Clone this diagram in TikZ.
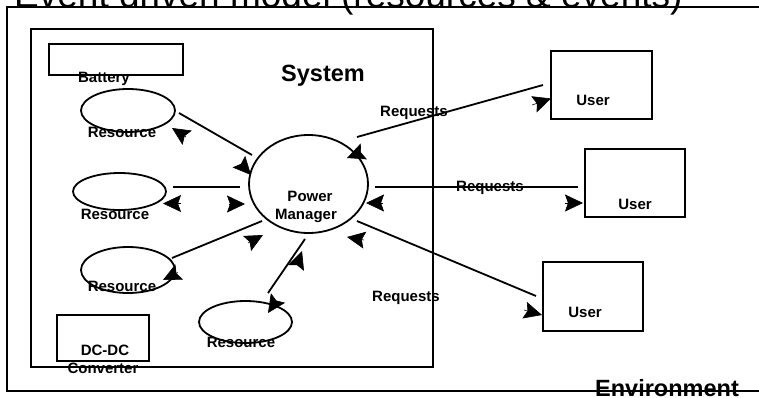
\documentclass[tikz,border=0pt]{standalone}
\usepackage{fontspec}
\setmainfont{Liberation Sans}
\usetikzlibrary{shapes.geometric, arrows.meta}

\begin{document}
\begin{tikzpicture}[
  x=1pt, y=-1pt,
  box/.style={
    draw, rectangle, line width=1.8pt, inner sep=0pt,
  },
  oval/.style={
    draw, ellipse, line width=1.8pt, inner sep=0pt,
  },
  lbl/.style={
    anchor=base, inner sep=0pt, font=\bfseries\fontsize{15}{15}\selectfont
  },
  biglbl/.style={
    anchor=base, inner sep=0pt, font=\bfseries\fontsize{23.5}{24}\selectfont
  },
  link/.style={line width=1.8pt},
  head/.style={
    -{Stealth[length=18pt,width=17pt,inset=3pt]}, line width=0.6pt
  }
  ]
  \useasboundingbox (0,0) rectangle (759,397);
  \node[anchor=base west, inner sep=0pt, font=\fontsize{37}{37}\selectfont]
    (title) at (14,7) {Event driven model (resources \& events)};
  \node[box, minimum width=800pt, minimum height=384pt] (env) at (407,199) {};
  \node[box, minimum width=402pt, minimum height=338pt] (sys) at (232,198) {};
  \node[box, minimum width=134pt, minimum height=31pt] (battery) at (116,59.5) {};
  \node[box, minimum width=92pt, minimum height=46pt] (dcdc) at (103,338) {};
  \node[oval, minimum width=94pt, minimum height=43pt] (res1) at (128,110.5) {};
  \node[oval, minimum width=93pt, minimum height=37pt] (res2) at (119.5,191.5) {};
  \node[oval, minimum width=94pt, minimum height=46pt] (res3) at (128,270) {};
  \node[oval, minimum width=93pt, minimum height=42pt] (res4) at (245.5,322) {};
  \node[oval, minimum width=119pt, minimum height=98pt] (pm) at (308.5,184) {};
  \node[box, minimum width=101pt, minimum height=68pt] (user1) at (601.5,85) {};
  \node[box, minimum width=100pt, minimum height=68pt] (user2) at (635,183) {};
  \node[box, minimum width=100pt, minimum height=69pt] (user3) at (593,296.5) {};

  % line ends
  \coordinate (r1o) at (179,113); \coordinate (pm1) at (252,155);
  \coordinate (r2o) at (173,187); \coordinate (pm2) at (240,187);
  \coordinate (r3o) at (172,258); \coordinate (pm3) at (262,221);
  \coordinate (r4o) at (268,293); \coordinate (pm4) at (305,239);
  \coordinate (pm5) at (357,137); \coordinate (u1o) at (543,85);
  \coordinate (pm6) at (375,187); \coordinate (u2o) at (578,187);
  \coordinate (pm7) at (357,221); \coordinate (u3o) at (536,296);

  \draw[link] (r1o) -- (pm1);
  \draw[link] (r2o) -- (pm2);
  \draw[link] (r3o) -- (pm3);
  \draw[link] (r4o) -- (pm4);
  \draw[link] (pm5) -- (u1o);
  \draw[link] (pm6) -- (u2o);
  \draw[link] (pm7) -- (u3o);

  % arrow heads
  \draw[head] (186,137) -- (172,128);
  \draw[head] (241,164) -- (251,175);
  \draw[head] (181,203.5) -- (163,203.5);
  \draw[head] (229,204) -- (245,204);
  \draw[head] (178,272.5) -- (163,280);
  \draw[head] (248,243) -- (263,235);
  \draw[head] (297,265) -- (302,251);
  \draw[head] (276,301) -- (268,313);
  \draw[head] (361,152.5) -- (347,158);
  \draw[head] (532,105) -- (551,98.5);
  \draw[head] (383,203) -- (366,203);
  \draw[head] (564.5,203) -- (583,203);
  \draw[head] (364,240) -- (347,237);
  \draw[head] (524,310) -- (542,315);

  \node[biglbl] (systext) at (323,81) {System};
  \node[biglbl] (envtext) at (667,396) {Environment};
  \node[lbl] (battext) at (104,82) {Battery};
  \node[lbl] (r1text) at (122,137) {Resource};
  \node[lbl] (r2text) at (115,219) {Resource};
  \node[lbl] (r3text) at (122,291) {Resource};
  \node[lbl] (r4text) at (241,347) {Resource};
  \node[lbl] (dctext) at (105,355) {DC-DC};
  \node[lbl] (convtext) at (103,373) {Converter};
  \node[lbl] (pmtext1) at (310,201) {Power};
  \node[lbl] (pmtext2) at (306,219) {Manager};
  \node[lbl] (u1text) at (593,105) {User};
  \node[lbl] (u2text) at (635,209) {User};
  \node[lbl] (u3text) at (585,317) {User};
  \node[lbl] (req1) at (414,116) {Requests};
  \node[lbl] (req2) at (490,191) {Requests};
  \node[lbl] (req3) at (406,301) {Requests};
\end{tikzpicture}
\end{document}
